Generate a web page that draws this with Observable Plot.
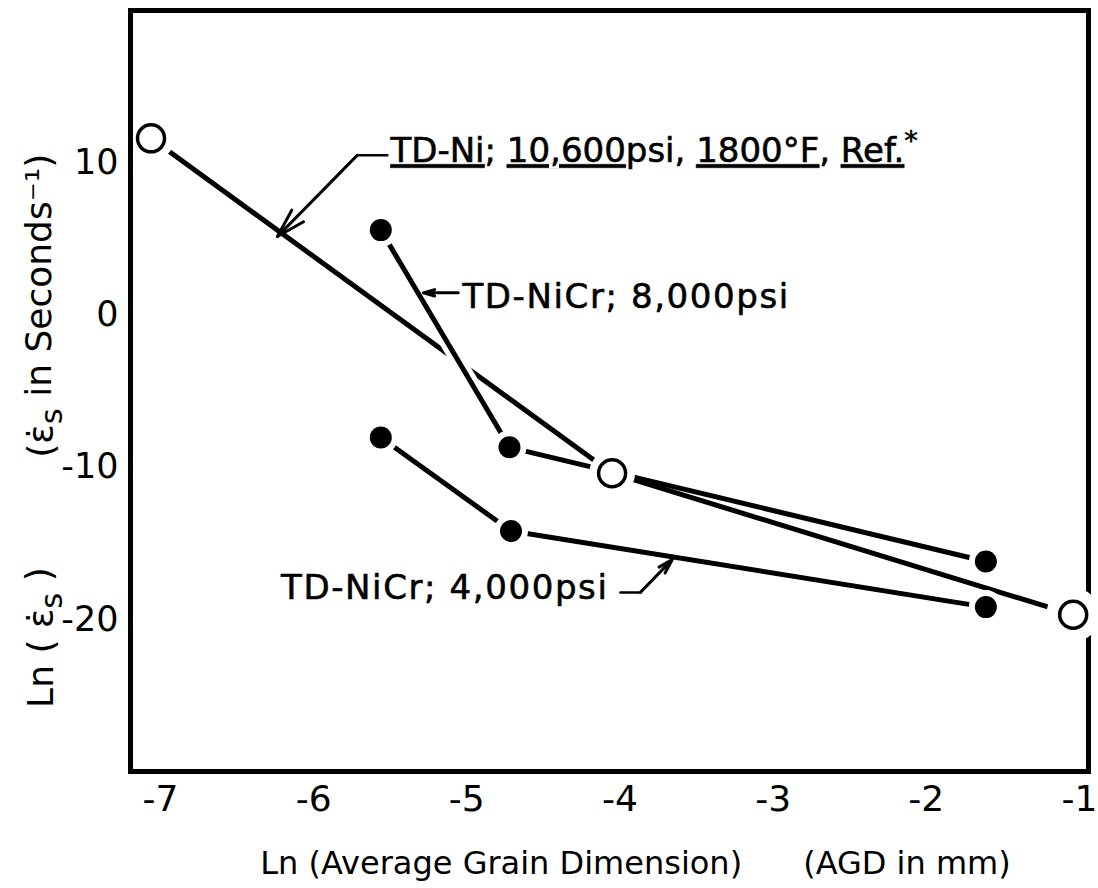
<!DOCTYPE html>
<html>
<head>
<meta charset="utf-8">
<script src="https://cdn.jsdelivr.net/npm/d3@7"></script>
<script src="https://cdn.jsdelivr.net/npm/@observablehq/plot@0.6"></script>
<style>
  body { margin: 0; background: #fff; }
  #chart svg { display: block; }
</style>
</head>
<body>
<div id="chart"></div>
<script>
// ---- data ----
const tdNiX = [-7.12, -4.11, -1.10];
const tdNiY = [11.6, -10.4, -19.7];
const nicr8000X = [-5.62, -4.78, -1.67];
const nicr8000Y = [5.57, -8.7, -16.2];
const nicr4000X = [-5.62, -4.77, -1.67];
const nicr4000Y = [-8.05, -14.2, -19.2];

const xTicks = [-7, -6, -5, -4, -3, -2, -1];
const yTicks = [-20, -10, 0, 10];
const xDomain = [-7.254, -1.0];
const yDomain = [-30, 20];

const xTitle = "Ln (Average Grain Dimension)\u00a0\u00a0\u00a0\u00a0\u00a0\u00a0(AGD in mm)";
const yTitleLow = "Ln ( ε̇s )";
const yTitleHigh = "(ε̇s in Seconds⁻¹)";

// annotation labels (anchored in data space)
const annoText = ["TD-Ni; 10,600psi, 1800°F, Ref.*", "TD-NiCr; 8,000psi", "TD-NiCr; 4,000psi"];
const annoX = [-5.557, -5.087, -4.134];
const annoY = [10.74, 1.14, -17.98];
const annoAnchor = ["start", "start", "end"];
const annoSpacing = ["0px", "1.6px", "1.6px"];

// leader lines (polyline, arrow on last segment)
const leader1 = [[-5.577, 10.49], [-5.773, 10.49], [-6.295, 5.15]];
const leader2 = [[-5.114, 1.45], [-5.342, 1.45]];
const leader3 = [[-4.056, -18.24], [-3.926, -18.24], [-3.717, -16.07]];

// ---- build tables ----
const rows = (name, xs, ys) => xs.map((x, i) => ({series: name, x, y: ys[i]}));
const ni = rows("TD-Ni", tdNiX, tdNiY);
const c8 = rows("TD-NiCr 8000", nicr8000X, nicr8000Y);
const c4 = rows("TD-NiCr 4000", nicr4000X, nicr4000Y);
const filled = [...c8, ...c4];
const annos = annoText.map((t, i) => ({t, x: annoX[i], y: annoY[i]}));
const polyRows = (pts) => pts.map(([x, y]) => ({x, y}));
const lastSeg = (pts) => {
  const a = pts[pts.length - 2], b = pts[pts.length - 1];
  return [{x1: a[0], y1: a[1], x2: b[0], y2: b[1]}];
};

const FONT = "'DejaVu Sans', sans-serif";

const plot = Plot.plot({
  width: 1098,
  height: 888,
  marginLeft: 130,
  marginRight: 10,
  marginTop: 10,
  marginBottom: 117,
  x: {domain: xDomain},
  y: {domain: yDomain},
  style: {fontFamily: FONT, background: "white", color: "black", overflow: "visible"},
  marks: [
    Plot.axisX({ticks: xTicks, tickSize: 0, tickPadding: 14, tickFormat: d => String(d),
      fontSize: 36, dx: -9, label: null}),
    Plot.axisY({ticks: yTicks, tickSize: 0, tickPadding: 12, tickFormat: d => String(d),
      fontSize: 35, label: null}),
    Plot.text([xTitle], {frameAnchor: "bottom", dy: 92, dx: 26, fontSize: 32, lineAnchor: "middle"}),
    Plot.text([yTitleLow], {frameAnchor: "left", y: [-21.2], dx: -89, rotate: -90, fontSize: 36,
      lineAnchor: "middle", textAnchor: "middle"}),
    Plot.text([yTitleHigh], {frameAnchor: "left", y: [0.6], dx: -89, rotate: -90, fontSize: 36,
      lineAnchor: "middle", textAnchor: "middle"}),
    // data lines
    Plot.line(ni, {x: "x", y: "y", stroke: "black", strokeWidth: 5}),
    Plot.line(c8.slice(0, 2), {x: "x", y: "y", stroke: "white", strokeWidth: 15}),
    Plot.line(c8, {x: "x", y: "y", stroke: "black", strokeWidth: 5}),
    Plot.line(c4, {x: "x", y: "y", stroke: "black", strokeWidth: 5}),
    // white halos around markers (gaps in lines)
    Plot.dot(filled, {x: "x", y: "y", r: 17, fill: "white"}),
    Plot.dot(ni.slice(0, 2), {x: "x", y: "y", r: 23, fill: "white"}),
    Plot.frame({stroke: "black", strokeWidth: 5}),
    Plot.dot(ni.slice(2), {x: "x", y: "y", r: 27, fill: "white"}),
    // markers
    Plot.dot(filled, {x: "x", y: "y", r: 11, fill: "black"}),
    Plot.dot(ni, {x: "x", y: "y", r: 13.5, fill: "white", stroke: "black", strokeWidth: 3.5}),
    // leader lines
    Plot.line(polyRows(leader1), {x: "x", y: "y", stroke: "black", strokeWidth: 2.5}),
    Plot.line(polyRows(leader3), {x: "x", y: "y", stroke: "black", strokeWidth: 2.5}),
    ...[leader1, leader2, leader3].map(L => Plot.arrow(lastSeg(L), {
      x1: "x1", y1: "y1", x2: "x2", y2: "y2", stroke: "black", strokeWidth: 3,
      headLength: 15, headAngle: 32
    })),
    // annotation text
    Plot.text(annos, {x: "x", y: "y", text: "t", fontSize: 34,
      lineAnchor: "middle", fill: "black", stroke: "black", strokeWidth: 0.6})
  ]
});

document.getElementById("chart").appendChild(plot);
const svg = d3.select(plot);

// per-label anchors and spacing
svg.selectAll("text").each(function () {
  const idx = annoText.indexOf(this.textContent);
  if (idx >= 0) d3.select(this).attr("text-anchor", annoAnchor[idx]).style("letter-spacing", annoSpacing[idx]);
});

// Rich formatting: underlines, superscript, subscripts
svg.selectAll("text").each(function () {
  const el = d3.select(this);
  const txt = this.textContent;
  if (txt === annoText[0]) {
    const parts = [
      {s: "TD-Ni", u: "single"}, {s: "; "}, {s: "10,600", u: "single"}, {s: "psi, "},
      {s: "1800°F", u: "single"}, {s: ", "}, {s: "Ref.", u: "double"}, {s: "*", sup: true}
    ];
    el.text(null);
    parts.forEach(p => {
      const ts = el.append("tspan").text(p.s);
      if (p.u) ts.style("text-decoration", "underline").style("text-decoration-style", p.u)
                 .style("text-decoration-thickness", "2px").style("text-underline-offset", "5px");
      if (p.sup) ts.attr("dy", "-0.45em").attr("font-size", "0.8em");
    });
  } else if (txt === yTitleLow || txt === yTitleHigh) {
    const i = txt.indexOf("ε̇s");
    const before = txt.slice(0, i), after = txt.slice(i + 3);
    el.text(null);
    el.append("tspan").text(before + "ε̇");
    el.append("tspan").text("s").attr("dy", "0.3em").attr("font-size", "0.85em");
    el.append("tspan").text(after).attr("dy", "-0.3em");
  }
});
</script>
</body>
</html>
